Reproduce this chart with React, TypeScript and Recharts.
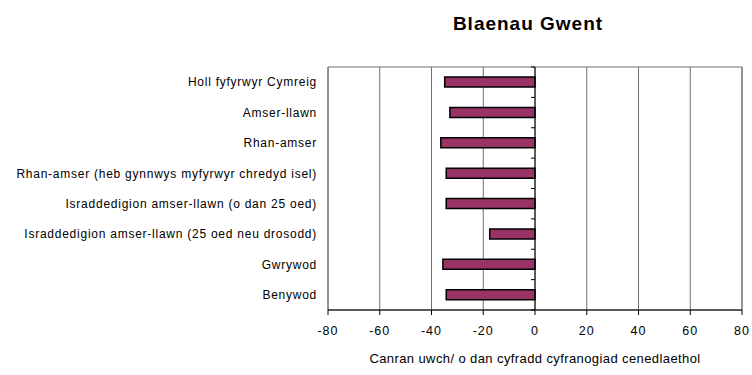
import React from 'react';
import {
  Bar,
  BarChart,
  CartesianGrid,
  Label,
  ReferenceArea,
  ReferenceLine,
  XAxis,
  YAxis,
} from 'recharts';

// Categories top to bottom, as in the reference
const categories = [
  'Holl fyfyrwyr Cymreig',
  'Amser-llawn',
  'Rhan-amser',
  'Rhan-amser (heb gynnwys myfyrwyr chredyd isel)',
  'Israddedigion amser-llawn (o dan 25 oed)',
  'Israddedigion amser-llawn (25 oed neu drosodd)',
  'Gwrywod',
  'Benywod',
];

// Percentage above/below national participation rate
const values = [-34.9, -32.9, -36.4, -34.3, -34.3, -17.5, -35.6, -34.3];

const xTicks = [-80, -60, -40, -20, 0, 20, 40, 60, 80];

const title = 'Blaenau Gwent';
const xTitle = 'Canran uwch/ o dan cyfradd cyfranogiad cenedlaethol';

const data = categories.map((name, i) => ({ name, value: values[i] }));

const FONT = '"Liberation Sans", Arial, sans-serif';
const BAR_COLOR = '#993366';
const GRID = '#6f6f6f';

// zero line with the small category ticks pointing left
const ZeroAxis = (props: any) => {
  const { x1, y1, x2, y2 } = props;
  const n = categories.length;
  const step = (y2 - y1) / n;
  const ticks = [];
  for (let i = 0; i <= n; i++) {
    const y = y1 + i * step;
    ticks.push(<line key={i} x1={x1 - 4} x2={x1} y1={y} y2={y} stroke="#000" strokeWidth={1} />);
  }
  return (
    <g>
      <line x1={x1} y1={y1} x2={x2} y2={y2} stroke="#000" strokeWidth={1} />
      {ticks}
    </g>
  );
};

export default function App() {
  return (
    <div style={{ position: 'absolute', left: 0, top: 0, width: 752, height: 375, background: '#fff', fontFamily: FONT }}>
      <div
        style={{
          position: 'absolute',
          left: 0,
          top: 14,
          width: 1056,
          textAlign: 'center',
          fontSize: 19,
          lineHeight: '19px',
          fontWeight: 'bold',
          letterSpacing: 1,
          color: '#000',
        }}
      >
        {title}
      </div>
      <BarChart
        width={752}
        height={375}
        data={data}
        layout="vertical"
        margin={{ top: 67, right: 10, bottom: 0, left: 0 }}
        style={{ fontFamily: FONT }}
      >
        <CartesianGrid horizontal={false} vertical stroke={GRID} strokeWidth={1} />
        <ReferenceArea x1={-80} x2={80} fill="none" stroke={GRID} strokeWidth={1} ifOverflow="visible" />
        <XAxis
          type="number"
          domain={[-80, 80]}
          ticks={xTicks}
          interval={0}
          height={65}
          tickSize={5}
          tickMargin={11}
          axisLine={{ stroke: '#000' }}
          tickLine={{ stroke: '#000' }}
          tick={{ fontSize: 12.5, fill: '#000', letterSpacing: 1 }}
        >
          <Label
            value={xTitle}
            position="insideBottom"
            offset={12}
            style={{ fontSize: 13, fill: '#000', letterSpacing: 0.4 }}
          />
        </XAxis>
        <YAxis
          type="category"
          dataKey="name"
          width={328}
          axisLine={false}
          tickLine={false}
          tickSize={0}
          tickMargin={11}
          interval={0}
          tick={{ fontSize: 12, fill: '#000', letterSpacing: 0.75 }}
        />
        <Bar
          dataKey="value"
          fill={BAR_COLOR}
          stroke="#000"
          strokeWidth={1.5}
          barSize={10}
          isAnimationActive={false}
        />
        <ReferenceLine x={0} shape={ZeroAxis} ifOverflow="visible" />
      </BarChart>
    </div>
  );
}
